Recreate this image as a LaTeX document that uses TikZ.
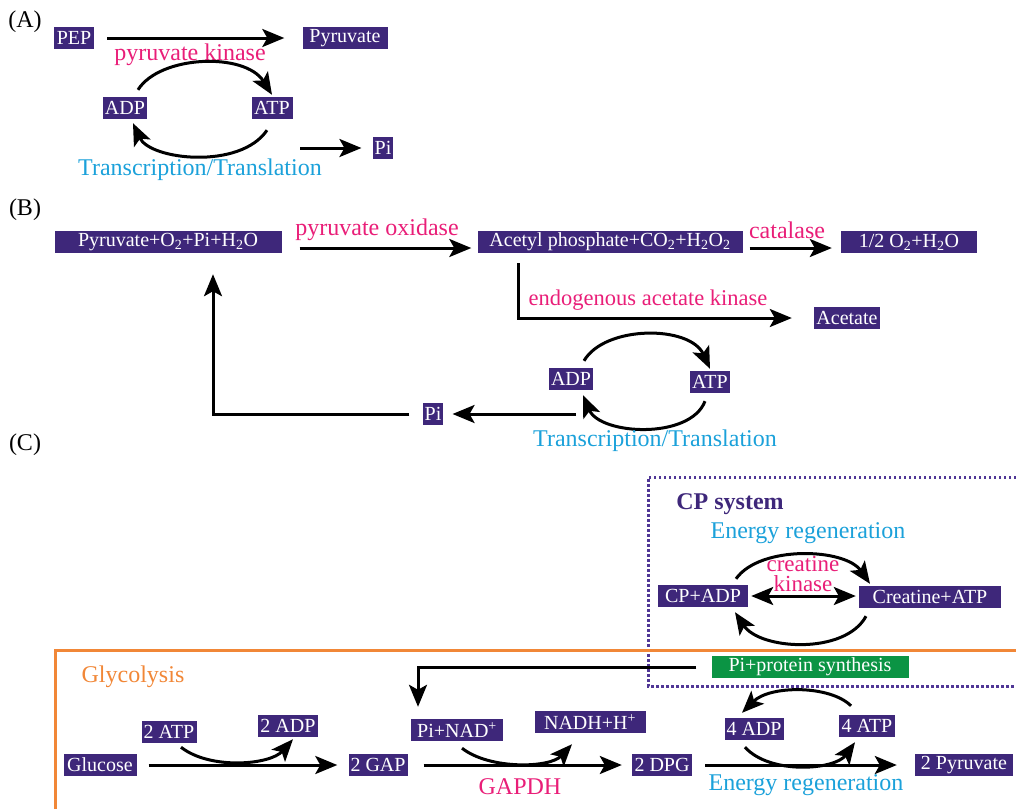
\documentclass[tikz,border=0pt]{standalone}
\usepackage{fontspec}
\setmainfont{Liberation Serif}
\usetikzlibrary{arrows.meta,calc}
\definecolor{boxpurple}{RGB}{62,39,122}
\definecolor{dotpurple}{RGB}{80,55,150}
\definecolor{pinkc}{RGB}{233,30,120}
\definecolor{cyanc}{RGB}{27,161,218}
\definecolor{orangec}{RGB}{241,135,55}
\definecolor{greenc}{RGB}{11,148,68}
\tikzset{
  box/.style={fill=boxpurple,text=white,minimum height=22pt,inner sep=2pt,font=\fontsize{20}{22}\selectfont},
  gbox/.style={box,fill=greenc},
  lab/.style={inner sep=0pt,font=\fontsize{24}{26}\selectfont},
  pinklab/.style={lab,text=pinkc},
  cyanlab/.style={lab,text=cyanc},
  arr/.style={line width=3pt,-{Stealth[length=22pt,width=18pt,inset=5pt]}},
  arrtwo/.style={line width=3pt,{Stealth[length=22pt,width=18pt,inset=5pt]}-{Stealth[length=22pt,width=18pt,inset=5pt]}}
}
\begin{document}
\begin{tikzpicture}[x=1pt,y=-1pt]
\useasboundingbox (0,0) rectangle (1016,809);
% ---------------- (A)
\node[lab] (labA) at (25,22) {(A)};
\node[box,minimum width=40pt] (pep) at (74,38) {PEP};
\node[box,minimum width=85pt] (pyrA) at (345,38) {Pyruvate};
\draw[arr] ([xshift=13pt]pep.east) -- ([xshift=-18pt]pyrA.west);
\node[pinklab] (pkA) at (190,55) {pyruvate kinase};
\node[box,minimum width=44pt] (adpA) at (125,108) {ADP};
\node[box,minimum width=41pt] (atpA) at (272,108) {ATP};
\draw[arr] ([shift={(13pt,7pt)}]adpA.north) .. controls (160,55) and (245,52) .. ([yshift=2pt]atpA.north);
\draw[arr] ([shift={(-5pt,-11pt)}]atpA.south) .. controls (240,170) and (150,160) .. ([shift={(8pt,-4pt)}]adpA.south);
\node[box,minimum width=19pt] (piA) at (383,148) {Pi};
\coordinate (piAstart) at (300,148);
\draw[arr] (piAstart) -- ([xshift=-11pt]piA.west);
\node[cyanlab] (ttA) at (200,170) {Transcription/Translation};
% ---------------- (B)
\node[lab] (labB) at (25,210) {(B)};
\node[box,minimum width=227pt] (b1) at (168,242) {Pyruvate+O\textsubscript{2}+Pi+H\textsubscript{2}O};
\node[box,minimum width=265pt] (b2) at (610,242) {Acetyl phosphate+CO\textsubscript{2}+H\textsubscript{2}O\textsubscript{2}};
\node[box,minimum width=136pt] (b3) at (909,242) {1/2 O\textsubscript{2}+H\textsubscript{2}O};
\draw[arr] ([shift={(18pt,-6pt)}]b1.east) -- ([shift={(-6pt,-6pt)}]b2.west);
\node[pinklab] (po) at (377,230) {pyruvate oxidase};
\draw[arr] ([shift={(7pt,-6pt)}]b2.east) -- ([shift={(-9pt,-6pt)}]b3.west);
\node[pinklab] (cat) at (787,230) {catalase};
\node[box,minimum width=66pt] (acet) at (847,318) {Acetate};
\draw[arr] ([shift={(41pt,-10pt)}]b2.south west) |- ([xshift=-22pt]acet.west);
\node[pinklab,font=\fontsize{22.5}{24}\selectfont] (eak) at (648,300) {endogenous acetate kinase};
\node[box,minimum width=41pt] (adpB) at (571,379) {ADP};
\node[box,minimum width=38pt] (atpB) at (710,382) {ATP};
\draw[arr] ([shift={(13pt,7pt)}]adpB.north) .. controls (605,325) and (690,325) .. ([yshift=2pt]atpB.north);
\draw[arr] ([shift={(-5pt,-8pt)}]atpB.south) .. controls (690,440) and (600,435) .. ([shift={(12pt,-5pt)}]adpB.south);
\node[box,minimum width=20pt] (piB) at (433,414) {Pi};
\coordinate (piBstart) at (576,414);
\draw[arr] (piBstart) -- ([xshift=9pt]piB.east);
\draw[arr] ([xshift=-13pt]piB.west) -| ([shift={(45pt,-21pt)}]b1.south);
\node[cyanlab] (ttB) at (655,441) {Transcription/Translation};
% ---------------- (C)
\node[lab] (labC) at (25,445) {(C)};
\draw[dotpurple,line width=3pt,dash pattern=on 2.5pt off 2.5pt] (1016,477) -- (648,477) -- (648,686) -- (1016,686);
\draw[orangec,line width=3pt] (55,809) -- (55,650) -- (1016,650);
\node[lab,text=boxpurple,font=\fontsize{24}{26}\selectfont\bfseries] (cps) at (730,504) {CP system};
\node[cyanlab] (erC) at (808,533) {Energy regeneration};
\node[box,minimum width=90pt] (cpadp) at (703,596) {CP+ADP};
\node[box,minimum width=142pt] (creat) at (930,597) {Creatine+ATP};
\draw[arrtwo] ([xshift=3pt]cpadp.east) -- ([xshift=-3pt]cpadp.east -| creat.west);
\node[pinklab,align=center,font=\fontsize{23}{20}\selectfont] (ck) at (803,574) {creatine\\kinase};
\draw[arr] ([shift={(33pt,6pt)}]cpadp.north) .. controls (760,545) and (845,548) .. ([shift={(-60pt,2pt)}]creat.north);
\draw[arr] ([shift={(-64pt,-8pt)}]creat.south) .. controls (845,655) and (760,650) .. ([shift={(32pt,-5pt)}]cpadp.south);
\node[gbox,minimum width=197pt] (pips) at (810,667) {Pi+protein synthesis};
\node[lab,text=orangec] (gly) at (133,677) {Glycolysis};
\node[box,minimum width=73pt] (glc) at (100,765) {Glucose};
\node[box,minimum width=55pt] (atp2) at (169,732) {2 ATP};
\node[box,minimum width=57pt] (adp2) at (288,726) {2 ADP};
\node[box,minimum width=58pt] (gap) at (378,765) {2 GAP};
\node[box,minimum width=92pt] (pinad) at (457,730) {Pi+NAD\textsuperscript{+}};
\node[box,minimum width=111pt] (nadh) at (590,722) {NADH+H\textsuperscript{+}};
\node[box,minimum width=60pt] (dpg) at (662,765) {2 DPG};
\node[box,minimum width=98pt] (pyr2) at (964,765) {2 Pyruvate};
\node[box,minimum width=57pt] (adp4) at (754,729) {4 ADP};
\node[box,minimum width=56pt] (atp4) at (867,726) {4 ATP};
\draw[arr] ([xshift=-15pt]pips.west) -| ([shift={(-39pt,12pt)}]pinad.north);
\draw[arr] ([xshift=12pt]glc.east) -- ([xshift=-11pt]gap.west);
\draw[arr] ([xshift=16pt]gap.east) -- ([xshift=-10pt]dpg.west);
\draw[arr] ([xshift=13pt]dpg.east) -- ([xshift=-18pt]pyr2.west);
\draw[arr] ([shift={(12pt,-4pt)}]atp2.south) .. controls (210,770) and (270,765) .. ([shift={(5pt,-2pt)}]adp2.south);
\draw[arr] ([shift={(5pt,-7pt)}]pinad.south) .. controls (490,770) and (550,768) .. ([shift={(-18pt,-11pt)}]nadh.south);
\node[pinklab] (gapdh) at (520,787) {GAPDH};
\draw[arr] ([shift={(-16pt,9pt)}]atp4.north) .. controls (830,685) and (770,685) .. ([shift={(-12pt,5pt)}]adp4.north);
\draw[arr] ([shift={(-9pt,-7pt)}]adp4.south) .. controls (770,775) and (835,770) .. ([shift={(-12pt,-5pt)}]atp4.south);
\node[cyanlab] (erG) at (806,785) {Energy regeneration};
\end{tikzpicture}
\end{document}
